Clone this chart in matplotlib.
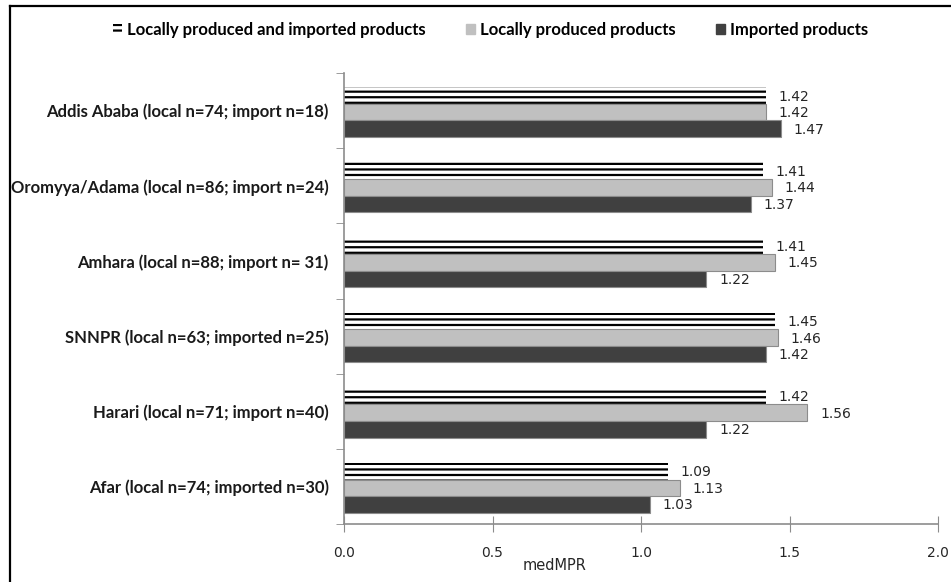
import numpy as np
import matplotlib.pyplot as plt
from matplotlib.patches import Patch, Rectangle
from matplotlib.lines import Line2D

regions = ['Addis Ababa (local n=74; import n=18)',
           'Oromyya/Adama (local n=86; import n=24)',
           'Amhara (local n=88; import n= 31)',
           'SNNPR (local n=63; imported n=25)',
           'Harari (local n=71; import n=40)',
           'Afar (local n=74; imported n=30)']
combined = [1.42, 1.41, 1.41, 1.45, 1.42, 1.09]
local = [1.42, 1.44, 1.45, 1.46, 1.56, 1.13]
imported = [1.47, 1.37, 1.22, 1.42, 1.22, 1.03]
series_names = ['Locally produced and imported products',
                'Locally produced products',
                'Imported products']

plt.rcParams['hatch.linewidth'] = 1.6
plt.rcParams['hatch.color'] = 'black'

fig = plt.figure(figsize=(9.51, 5.82), dpi=100)
ax = fig.add_axes([344 / 951, 1 - 524 / 582, 594 / 951, 451 / 582])

y = np.arange(len(regions))
h = 0.22
shift = 0.02

b1 = ax.barh(y - h + shift, combined, height=h, color='white', edgecolor='black',
             linewidth=0, hatch='---')
b2 = ax.barh(y + shift, local, height=h, color='#c0c0c0', edgecolor='#8c8c8c', linewidth=0.8)
b3 = ax.barh(y + h + shift, imported, height=h, color='#404040', edgecolor='#8c8c8c', linewidth=0.8)

for bars, vals in [(b1, combined), (b2, local), (b3, imported)]:
    for rect, v in zip(bars, vals):
        ax.annotate(f'{v:.2f}', (v, rect.get_y() + rect.get_height() / 2),
                    xytext=(13, -1), textcoords='offset pixels',
                    va='center', ha='left', fontsize=10, color='#262626',
                    family='DejaVu Sans')

ax.set_xlim(0, 2.0)
ax.set_ylim(len(regions) - 0.5, -0.5)
ax.set_xticks([0, 0.5, 1.0, 1.5, 2.0])
ax.set_xticklabels(['0.0', '0.5', '1.0', '1.5', '2.0'], fontsize=10, color='#262626')
ax.set_yticks(y)
ax.set_yticklabels(regions, fontsize=12, fontweight='bold', family='Lato', color='#1a1a1a')
ax.set_yticks(np.arange(len(regions) + 1) - 0.5, minor=True)
ax.tick_params(axis='y', which='major', length=0, pad=11)
ax.tick_params(axis='y', which='minor', length=6, color='#8c8c8c', direction='out')
ax.tick_params(axis='x', length=12, direction='inout', color='#8c8c8c', pad=10)

for side in ['top', 'right']:
    ax.spines[side].set_visible(False)
for side in ['left', 'bottom']:
    ax.spines[side].set_color('#8c8c8c')
    ax.spines[side].set_linewidth(1.2)

ax.set_xlabel('medMPR', fontsize=10.5, color='#262626')
ax.xaxis.set_label_coords((555 - 344) / 594, -0.075)

handles = [Patch(facecolor='white', edgecolor='black', linewidth=0, hatch='---'),
           Patch(facecolor='#c0c0c0', edgecolor='#c0c0c0'),
           Patch(facecolor='#404040', edgecolor='#404040')]
fig.legend(handles, series_names, loc='center', bbox_to_anchor=(0.516, 1 - 30 / 582),
           ncol=3, frameon=False, handlelength=0.55, handleheight=0.55, handletextpad=0.3,
           columnspacing=2.4, prop={'family': 'Lato', 'weight': 'bold', 'size': 12})

# outer frame; mask anything spilling left of it
fig.add_artist(Rectangle((0, 0), 9 / 951, 1, transform=fig.transFigure,
                         facecolor='white', edgecolor='none', zorder=10))
fig.add_artist(Line2D([10 / 951, 10 / 951], [0, 1 - 6 / 582], transform=fig.transFigure,
                      color='black', linewidth=1.6, zorder=11))
fig.add_artist(Line2D([10 / 951, 1], [1 - 6 / 582, 1 - 6 / 582], transform=fig.transFigure,
                      color='black', linewidth=1.6, zorder=11))

fig.savefig('out.png', dpi=100)
